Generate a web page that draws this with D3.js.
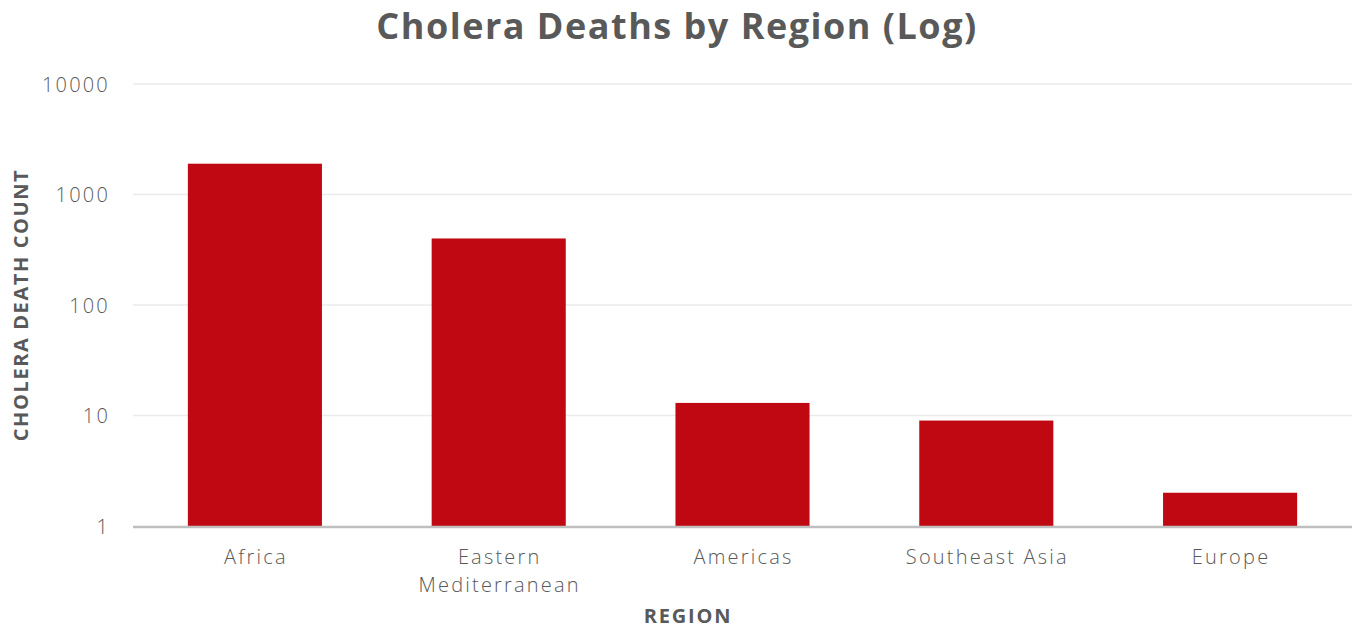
<!DOCTYPE html>
<html>
<head>
    <meta charset="utf-8">
    <script src="https://d3js.org/d3.v7.min.js"></script>
    <style>
        body { margin: 0; background: #fff; }
        text { font-family: "Open Sans", Roboto, sans-serif; fill: #595959; }
    </style>
</head>
<body>
    <script type="text/javascript">
        // chart data
        var regions = ["Africa", "Eastern Mediterranean", "Americas", "Southeast Asia", "Europe"];
        var deaths = [1900, 400, 13, 9, 2];
        var yTicks = [1, 10, 100, 1000, 10000];

        var width = 1366, height = 642;
        var margin = {left: 133, right: 14, top: 84, bottom: 116};

        var svg = d3.select("body").append("svg")
            .attr("width", width)
            .attr("height", height);

        var x = d3.scaleBand()
            .domain(regions)
            .range([margin.left, width - margin.right])
            .paddingInner(0.45)
            .paddingOuter(0.225);

        var y = d3.scaleLog()
            .domain([1, 10000])
            .range([height - margin.bottom, margin.top]);

        // gridlines
        svg.append("g")
            .selectAll("line")
            .data(yTicks.slice(1))
            .enter().append("line")
            .attr("x1", margin.left)
            .attr("x2", width - margin.right)
            .attr("y1", function(d) { return y(d); })
            .attr("y2", function(d) { return y(d); })
            .style("stroke", "#ebebeb")
            .style("stroke-width", 1.5);

        // y tick labels
        var yAxis = svg.append("g")
            .attr("transform", "translate(" + (margin.left - 20) + ",0)")
            .call(d3.axisLeft(y).tickValues(yTicks).tickFormat(d3.format("d")).tickSize(0));
        yAxis.select(".domain").remove();
        yAxis.selectAll("text")
            .style("font-family", "'Open Sans', sans-serif")
            .style("font-size", "20px")
            .style("font-weight", "300")
            .style("letter-spacing", "2.2px")
            .attr("dy", "0.35em");

        // bars
        svg.append("g")
            .selectAll("rect")
            .data(regions)
            .enter().append("rect")
            .attr("x", function(d) { return x(d); })
            .attr("width", x.bandwidth())
            .attr("y", function(d, i) { return y(deaths[i]); })
            .attr("height", function(d, i) { return y(1) - y(deaths[i]); })
            .style("fill", "#c00812");

        // x axis line
        svg.append("line")
            .attr("x1", margin.left)
            .attr("x2", width - margin.right)
            .attr("y1", y(1) + 1)
            .attr("y2", y(1) + 1)
            .style("stroke", "#bfbfbf")
            .style("stroke-width", 2.5);

        // category labels (wrapped)
        var wrapped = {"Eastern Mediterranean": ["Eastern", "Mediterranean"]};
        var cat = svg.append("g").selectAll("text")
            .data(regions)
            .enter().append("text")
            .attr("x", function(d) { return x(d) + x.bandwidth() / 2 + 1; })
            .attr("y", y(1) + 38)
            .attr("text-anchor", "middle")
            .style("font-size", "20px")
            .style("font-weight", "300")
            .style("letter-spacing", "2.2px");
        cat.each(function(d) {
            var lines = wrapped[d] || [d];
            var t = d3.select(this);
            lines.forEach(function(l, i) {
                t.append("tspan")
                    .attr("x", x(d) + x.bandwidth() / 2 + 1)
                    .attr("dy", i === 0 ? 0 : 28)
                    .text(l);
            });
        });

        // title
        svg.append("text")
            .attr("x", 677)
            .attr("y", 39)
            .attr("text-anchor", "middle")
            .style("font-size", "36px")
            .style("font-weight", "700")
            .style("letter-spacing", "1.5px")
            .text("Cholera Deaths by Region (Log)");

        // axis titles
        svg.append("text")
            .attr("x", 688)
            .attr("y", 623)
            .attr("text-anchor", "middle")
            .style("font-size", "20px")
            .style("font-weight", "700")
            .style("letter-spacing", "1.8px")
            .text("REGION");

        svg.append("text")
            .attr("transform", "translate(28,305) rotate(-90)")
            .attr("text-anchor", "middle")
            .style("font-size", "20px")
            .style("font-weight", "700")
            .style("letter-spacing", "1.6px")
            .text("CHOLERA DEATH COUNT");
    </script>
</body>
</html>
